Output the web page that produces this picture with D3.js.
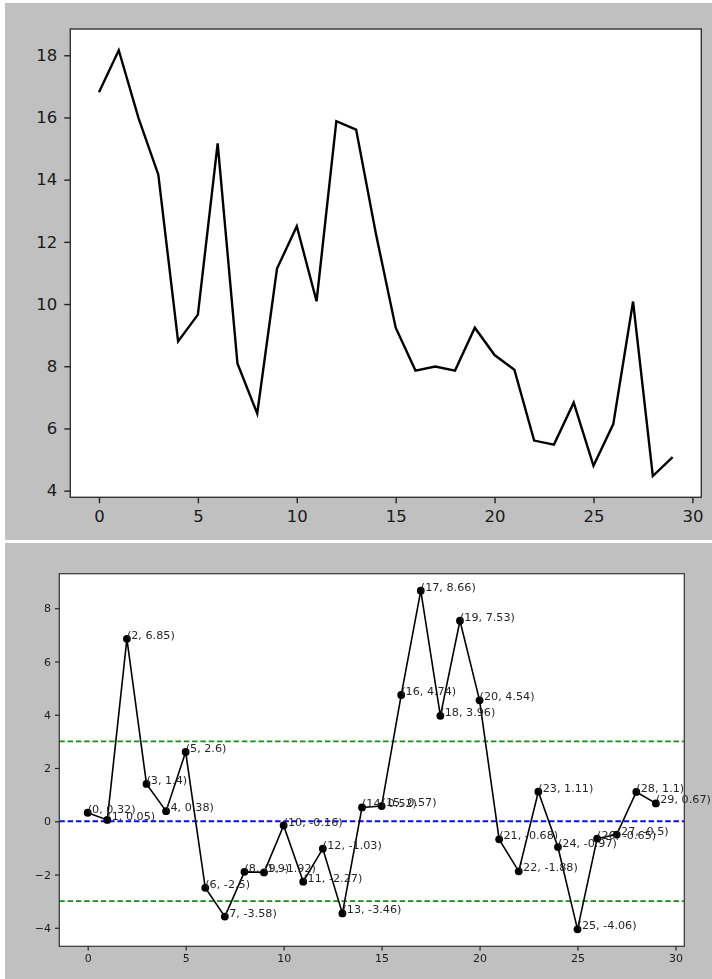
<!DOCTYPE html>
<html>
<head>
<meta charset="utf-8">
<script src="https://cdn.jsdelivr.net/npm/d3@7"></script>
<style>
  html, body { margin: 0; padding: 0; background: #ffffff; }
  svg { display: block; }
  text { font-family: "DejaVu Sans", sans-serif; }
</style>
</head>
<body>
<svg id="chart" width="712" height="979"></svg>
<script>
// Sample index shared by both panels
const sampleIndex = [0, 1, 2, 3, 4, 5, 6, 7, 8, 9, 10, 11, 12, 13, 14, 15, 16, 17, 18, 19,
                     20, 21, 22, 23, 24, 25, 26, 27, 28, 29];

// Upper panel: raw series
const rawSeries = [16.81, 18.16, 15.98, 14.16, 8.80, 9.66, 15.17, 8.09, 6.48, 11.14,
                   12.50, 10.09, 15.88, 15.61, 12.26, 9.24, 7.86, 7.99, 7.86, 9.24,
                   8.36, 7.89, 5.61, 5.48, 6.83, 4.80, 6.14, 10.08, 4.47, 5.08];
const rawYTicks = [4, 6, 8, 10, 12, 14, 16, 18];

// Lower panel: standardized series with annotated points
const scoreSeries = [0.32, 0.05, 6.85, 1.4, 0.38, 2.6, -2.5, -3.58, -1.9, -1.92,
                     -0.16, -2.27, -1.03, -3.46, 0.52, 0.57, 4.74, 8.66, 3.96, 7.53,
                     4.54, -0.68, -1.88, 1.11, -0.97, -4.06, -0.65, -0.5, 1.1, 0.67];
const scoreYTicks = [-4, -2, 0, 2, 4, 6, 8];

// Reference lines in the lower panel
const refLevels = [3, 0, -3];
const refColors = ["#129012", "#0a0af0", "#129012"];

const xTicks = [0, 5, 10, 15, 20, 25, 30];

const svg = d3.select("#chart");
const minus = s => String(s).replace("-", "\u2212");

function padded(values) {
  const lo = d3.min(values), hi = d3.max(values);
  const pad = (hi - lo) * 0.05;
  return [lo - pad, hi + pad];
}

function panel(opts) {
  // figure background
  svg.append("rect")
    .attr("x", opts.fig[0]).attr("y", opts.fig[1])
    .attr("width", opts.fig[2]).attr("height", opts.fig[3])
    .attr("fill", "#c0c0c0");

  const x = d3.scaleLinear().domain(padded(sampleIndex)).range([opts.box[0], opts.box[2]]);
  const y = d3.scaleLinear().domain(padded(opts.values)).range([opts.box[3], opts.box[1]]);

  const g = svg.append("g").attr("filter", opts.filter || null);

  g.append("rect")
    .attr("x", opts.box[0]).attr("y", opts.box[1])
    .attr("width", opts.box[2] - opts.box[0]).attr("height", opts.box[3] - opts.box[1])
    .attr("fill", "#ffffff");

  const clipId = "clip" + opts.name;
  svg.append("clipPath").attr("id", clipId).append("rect")
    .attr("x", opts.box[0]).attr("y", opts.box[1])
    .attr("width", opts.box[2] - opts.box[0]).attr("height", opts.box[3] - opts.box[1]);

  const plot = g.append("g").attr("clip-path", `url(#${clipId})`);

  if (opts.refs) {
    plot.selectAll("line.ref").data(opts.refs).join("line")
      .attr("class", "ref")
      .attr("x1", opts.box[0]).attr("x2", opts.box[2])
      .attr("y1", d => y(d)).attr("y2", d => y(d))
      .attr("stroke", (d, i) => opts.refColors[i])
      .attr("stroke-width", 1.8)
      .attr("stroke-dasharray", "5.5,2.8");
  }

  const line = d3.line().x((d, i) => x(sampleIndex[i])).y(d => y(d));
  plot.append("path")
    .datum(opts.values)
    .attr("d", line)
    .attr("fill", "none")
    .attr("stroke", "#000")
    .attr("stroke-width", opts.lineWidth)
    .attr("stroke-linejoin", "miter");

  if (opts.markers) {
    plot.selectAll("circle").data(opts.values).join("circle")
      .attr("cx", (d, i) => x(sampleIndex[i]))
      .attr("cy", d => y(d))
      .attr("r", 3.9)
      .attr("fill", "#000");
    g.selectAll("text.ann").data(opts.values).join("text")
      .attr("class", "ann")
      .attr("x", (d, i) => x(sampleIndex[i]))
      .attr("y", d => y(d))
      .attr("font-size", 11.2)
      .attr("fill", "#262626")
      .text((d, i) => `(${sampleIndex[i]}, ${d})`);
  }

  // axes
  const xAxis = d3.axisBottom(x).tickValues(xTicks)
    .tickSize(opts.tickLen).tickPadding(opts.tickPad).tickFormat(d3.format("d"));
  const yAxis = d3.axisLeft(y).tickValues(opts.yTicks)
    .tickSize(opts.tickLen).tickPadding(opts.tickPad).tickFormat(d => minus(d));

  const ax = g.append("g").attr("transform", `translate(0,${opts.box[3]})`).call(xAxis);
  const ay = g.append("g").attr("transform", `translate(${opts.box[0]},0)`).call(yAxis);
  [ax, ay].forEach(a => {
    a.select(".domain").remove();
    a.selectAll(".tick line").attr("stroke", "#222").attr("stroke-width", opts.spineW);
    a.selectAll(".tick text")
      .attr("fill", "#1a1a1a")
      .attr("font-size", opts.fontSize)
      .attr("font-family", "DejaVu Sans, sans-serif");
  });

  // spines
  g.append("rect")
    .attr("x", opts.box[0]).attr("y", opts.box[1])
    .attr("width", opts.box[2] - opts.box[0]).attr("height", opts.box[3] - opts.box[1])
    .attr("fill", "none")
    .attr("stroke", "#333")
    .attr("stroke-width", opts.spineW);
}

panel({
  name: "raw",
  fig: [5, 3, 707, 537],
  box: [70.3, 29, 701.3, 497.3],
  values: rawSeries,
  yTicks: rawYTicks,
  lineWidth: 2.4,
  tickLen: 6,
  tickPad: 7,
  fontSize: 16.5,
  spineW: 1.4,
  markers: false
});

svg.append("defs").append("filter").attr("id", "soft")
  .append("feGaussianBlur").attr("stdDeviation", 0.35);

panel({
  name: "score",
  fig: [5, 543, 707, 436],
  box: [59.3, 573.7, 684.3, 946.3],
  values: scoreSeries,
  yTicks: scoreYTicks,
  refs: refLevels,
  refColors: refColors,
  lineWidth: 1.6,
  tickLen: 4.3,
  tickPad: 4,
  fontSize: 11,
  spineW: 1.2,
  markers: true,
  filter: "url(#soft)"
});
</script>
</body>
</html>
